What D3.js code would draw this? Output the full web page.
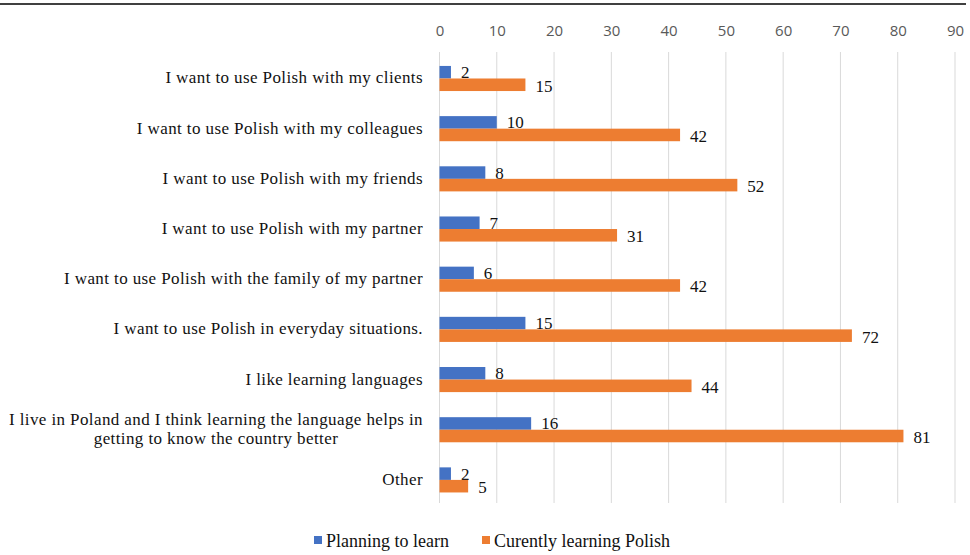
<!DOCTYPE html>
<html>
<head>
<meta charset="utf-8">
<script src="https://cdn.jsdelivr.net/npm/d3@7"></script>
<style>
  body { margin: 0; background: #fff; }
  svg { display: block; }
</style>
</head>
<body>
<div id="chart"></div>
<script>
const width = 970;
const height = 555;

// data
const categories = [
    "I want to use Polish with my clients",
    "I want to use Polish with my colleagues",
    "I want to use Polish with my friends",
    "I want to use Polish with my partner",
    "I want to use Polish with the family of my partner",
    "I want to use Polish in everyday situations.",
    "I like learning languages",
    "I live in Poland and I think learning the language helps in|getting to know the country better",
    "Other"
];
const planning = [2, 10, 8, 7, 6, 15, 8, 16, 2];
const learning = [15, 42, 52, 31, 42, 72, 44, 81, 5];
const seriesNames = ["Planning to learn", "Curently learning Polish"];
const seriesColors = ["#4472C4", "#ED7D31"];
const tickValues = [0, 10, 20, 30, 40, 50, 60, 70, 80, 90];

const svg = d3.select("#chart")
    .append("svg")
    .attr("width", width)
    .attr("height", height);

// top rule
svg.append("line")
    .attr("x1", 0).attr("x2", 966)
    .attr("y1", 4).attr("y2", 4)
    .attr("stroke", "#000")
    .attr("stroke-width", 1.5);

const x = d3.scaleLinear()
    .domain([0, 90])
    .range([439.5, 955]);

const y = d3.scaleBand()
    .domain(categories)
    .range([53.4, 505])
    .paddingInner(0.5)
    .paddingOuter(0.25);

const sub = d3.scaleBand()
    .domain([0, 1])
    .range([0, y.bandwidth()]);

// gridlines
svg.append("g")
    .selectAll("line")
    .data(tickValues)
    .enter().append("line")
    .attr("x1", d => x(d)).attr("x2", d => x(d))
    .attr("y1", 52).attr("y2", 503)
    .attr("stroke", "#d9d9d9")
    .attr("stroke-width", 1);

// top axis labels
const axis = svg.append("g")
    .attr("transform", "translate(0,36)")
    .call(d3.axisTop(x).tickValues(tickValues).tickSize(0).tickPadding(0));
axis.select(".domain").remove();
axis.selectAll("text")
    .attr("font-family", "'Open Sans', sans-serif")
    .attr("font-size", 15)
    .attr("fill", "#595959");

const serif = "'Liberation Serif', 'Times New Roman', serif";

// category labels (multi-line ones are centred under the first line)
const labelRight = 423;
svg.append("g")
    .selectAll("g")
    .data(categories)
    .enter().append("g")
    .each(function (d) {
        const lines = d.split("|");
        const cy = y(d) + y.bandwidth() / 2;
        const g = d3.select(this);
        const texts = lines.map((ln, i) => g.append("text")
            .attr("y", cy + 5 + (i - (lines.length - 1) / 2) * 19)
            .attr("font-family", serif)
            .attr("font-size", 17)
            .attr("letter-spacing", 0.4)
            .attr("fill", "#111")
            .text(ln));
        if (lines.length === 1) {
            texts[0].attr("x", labelRight).attr("text-anchor", "end");
        } else {
            const w = d3.max(texts, t => t.node().getComputedTextLength());
            texts.forEach(t => t.attr("x", labelRight - w / 2).attr("text-anchor", "middle"));
        }
    });

// bars
const seriesData = [planning, learning];
seriesData.forEach((vals, s) => {
    const g = svg.append("g");
    g.selectAll("rect")
        .data(vals)
        .enter().append("rect")
        .attr("x", x(0))
        .attr("y", (d, i) => y(categories[i]) + sub(s))
        .attr("width", d => x(d) - x(0))
        .attr("height", sub.bandwidth())
        .attr("fill", seriesColors[s]);

    g.selectAll("text")
        .data(vals)
        .enter().append("text")
        .attr("x", d => x(d) + 10)
        .attr("y", (d, i) => y(categories[i]) + sub(s) + sub.bandwidth() / 2 + (s === 0 ? 6 : 7))
        .attr("font-family", serif)
        .attr("font-size", 17)
        .attr("fill", "#111")
        .text(d => d);
});

// legend
const legendX = [314, 482];
const legend = svg.append("g")
    .selectAll("g")
    .data(seriesNames)
    .enter().append("g")
    .attr("transform", (d, i) => `translate(${legendX[i]},541)`);
legend.append("rect")
    .attr("x", 0).attr("y", -5)
    .attr("width", 8).attr("height", 8)
    .attr("fill", (d, i) => seriesColors[i]);
legend.append("text")
    .attr("x", 12).attr("y", 6)
    .attr("font-family", serif)
    .attr("font-size", 18)
    .attr("fill", "#111")
    .text(d => d);
</script>
</body>
</html>
